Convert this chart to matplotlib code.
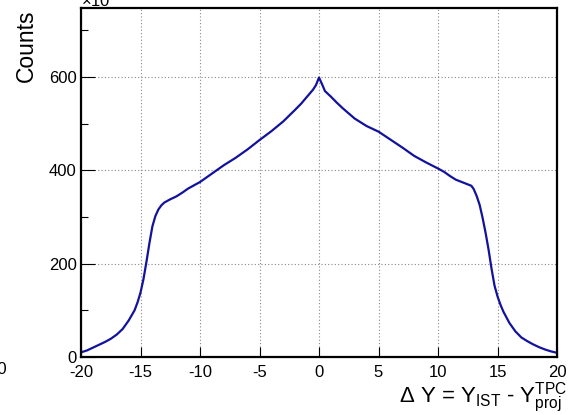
import matplotlib
matplotlib.use("Agg")
import matplotlib.pyplot as plt

plt.rcParams["font.family"] = ["Liberation Sans", "DejaVu Sans"]
plt.rcParams["mathtext.fontset"] = "custom"
plt.rcParams["mathtext.rm"] = "Liberation Sans"
plt.rcParams["axes.unicode_minus"] = False

# residual dY between IST hits and TPC projections (counts in units of 10^3)
dy = [-20, -19.5, -19, -18.5, -18, -17.5, -17, -16.5, -16, -15.5, -15.25, -15,
      -14.75, -14.5, -14.25, -14, -13.75, -13.5, -13.25, -13, -12.5, -12, -11.5,
      -11, -10.5, -10, -9, -8, -7, -6, -5, -4, -3, -2, -1.5, -1, -0.5, -0.25, 0,
      0.25, 0.5, 1, 1.5, 2, 3, 4, 5, 6, 7, 8, 9, 10, 10.5, 11, 11.5, 12, 12.5,
      12.8, 13, 13.25, 13.5, 13.75, 14, 14.25, 14.5, 14.75, 15, 15.25, 15.5, 16,
      16.5, 17, 17.5, 18, 18.5, 19, 19.5, 20]
counts = [10, 14, 20, 26, 32, 39, 48, 60, 78, 100, 117, 138,
          167, 204, 244, 280, 302, 316, 325, 331, 338, 344, 352,
          361, 368, 375, 393, 411, 427, 445, 465, 484, 505, 530, 543, 558, 573, 583, 599,
          585, 570, 558, 545, 533, 511, 495, 483, 466, 449, 431, 417, 404, 397, 388, 380, 375, 370,
          367, 360, 345, 326, 298, 266, 230, 189, 153, 130, 112, 97, 73,
          55, 42, 34, 27, 21, 16, 12, 9]

fig = plt.figure(figsize=(5.78, 4.15), dpi=100)
ax = fig.add_axes([81 / 578, 58 / 415, 476 / 578, 349 / 415])

ax.plot(dy, counts, color="#12129c", lw=1.6)

ax.set_xlim(-20, 20)
ax.set_ylim(0, 748)
ax.set_xticks(range(-20, 21, 5))
ax.set_yticks([0, 200, 400, 600])
ax.set_yticks([100, 300, 500, 700], minor=True)
ax.grid(True, color="#888888", lw=0.8, linestyle=(0, (1, 2)))
ax.set_axisbelow(True)

ax.tick_params(axis="x", which="major", direction="in", length=7.2, width=0.8,
               labelsize=12, pad=6)
ax.tick_params(axis="y", which="major", direction="in", length=10, width=0.8,
               labelsize=12, pad=3)
ax.tick_params(axis="y", which="minor", direction="in", length=5, width=0.8)
for s in ax.spines.values():
    s.set_linewidth(1.6)

fig.text(26 / 578, 1 - 10 / 415, "Counts", rotation=90, ha="center", va="top",
         fontsize=16.5)
fig.text(567 / 578, 0, r"Δ Y = Y$_{\rm IST}$ - Y$_{\rm proj}^{\rm TPC}$",
         ha="right", va="bottom", fontsize=16)
fig.text(81 / 578, 1 - 6 / 415, r"$\times$10$^{3}$", ha="left", va="baseline",
         fontsize=12)
fig.text(7 / 578, 1 - 377 / 415, "20", ha="right", va="bottom", fontsize=12)

fig.savefig("out.png", dpi=100)
